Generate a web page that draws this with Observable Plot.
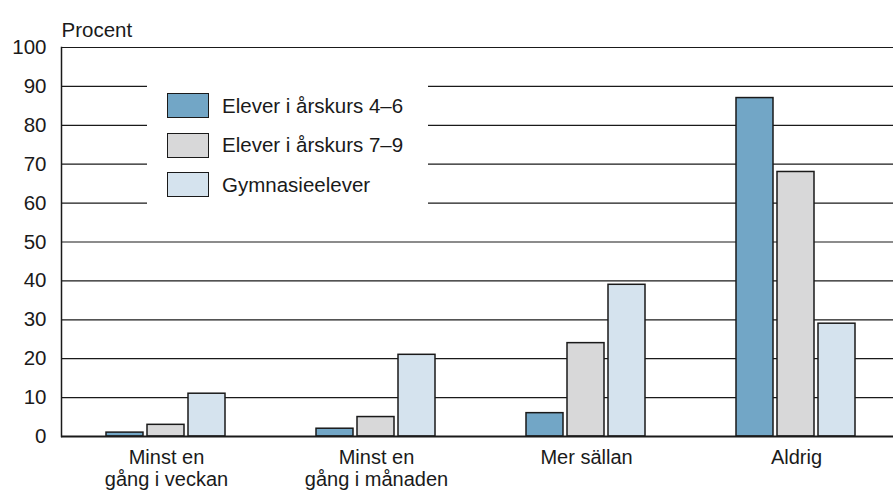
<!DOCTYPE html>
<html><head><meta charset="utf-8">
<script src="https://cdn.jsdelivr.net/npm/d3@7"></script>
<script src="https://cdn.jsdelivr.net/npm/@observablehq/plot@0.6"></script>
<style>
body{margin:0;background:#fff;font-family:"Liberation Sans",Arial,sans-serif;}
#wrap{position:relative;width:893px;height:494px;}
#legend{position:absolute;left:147px;top:79px;width:281px;height:131px;background:#fff;}
.item{position:absolute;left:20px;height:25px;display:flex;align-items:center;font-size:20.5px;color:#1a1a1a;white-space:nowrap}
.sw{width:42px;height:25px;box-sizing:border-box;border:1.5px solid #1a1a1a;margin-right:13px;flex:none}
</style></head><body><div id="wrap"></div>
<script>
const categories = ["Minst en\ngång i veckan", "Minst en\ngång i månaden", "Mer sällan", "Aldrig"];
const series = ["Elever i årskurs 4–6", "Elever i årskurs 7–9", "Gymnasieelever"];
const colors = ["#72a6c6", "#d8d8d9", "#d5e3ee"];
const grade46 = [1, 2, 6, 87];
const grade79 = [3, 5, 24, 68];
const gymnasium = [11, 21, 39, 29];
const yTicks = [0, 10, 20, 30, 40, 50, 60, 70, 80, 90, 100];

const valuesBySeries = [grade46, grade79, gymnasium];
const data = categories.flatMap((c, i) => series.map((s, j) => ({category: c, series: s, value: valuesBySeries[j][i]})));

const chart = Plot.plot({
  width: 893, height: 494,
  marginTop: 47, marginBottom: 58, marginLeft: 60, marginRight: 0,
  style: {fontFamily: "Liberation Sans, Arial, sans-serif", fontSize: "20.5px", color: "#1a1a1a", background: "white"},
  fx: {domain: categories, range: [60, 902], padding: 0, label: null, axis: null},
  x: {domain: series, paddingInner: 0.095, paddingOuter: 1.05, axis: null},
  y: {domain: [0, 100], ticks: yTicks, label: null},
  color: {domain: series, range: colors},
  marks: [
    Plot.ruleY(yTicks.filter(t => t > 0), {stroke: "#1a1a1a", strokeWidth: 1.2}),
    Plot.barY(data, {fx: "category", x: "series", y: "value", fill: "series", stroke: "#1a1a1a", strokeWidth: 1.5}),
    Plot.ruleY([0], {stroke: "#1a1a1a", strokeWidth: 2}),
    Plot.frame({anchor: "left", facetAnchor: "left", stroke: "#1a1a1a", strokeWidth: 1.5}),
    Plot.axisY({ticks: yTicks, tickSize: 0, tickPadding: 15, label: null, fontSize: 20.5}),
    Plot.axisFx({anchor: "bottom", tickSize: 0, tickPadding: 12, label: null, lineHeight: 1.1, fontSize: 20}),
    Plot.text([categories[0]], {fx: d => d, text: () => "Procent", frameAnchor: "top-left", dy: -25, textAnchor: "start", fontSize: 20.5})
  ]
});
const wrap = document.getElementById("wrap");
wrap.appendChild(chart);

const legend = document.createElement("div");
legend.id = "legend";
series.forEach((s, j) => {
  const item = document.createElement("div");
  item.className = "item";
  item.style.top = (14 + j * 39.5) + "px";
  const sw = document.createElement("span");
  sw.className = "sw";
  sw.style.background = colors[j];
  const label = document.createElement("span");
  label.textContent = s;
  item.appendChild(sw); item.appendChild(label);
  legend.appendChild(item);
});
wrap.appendChild(legend);
</script></body></html>
